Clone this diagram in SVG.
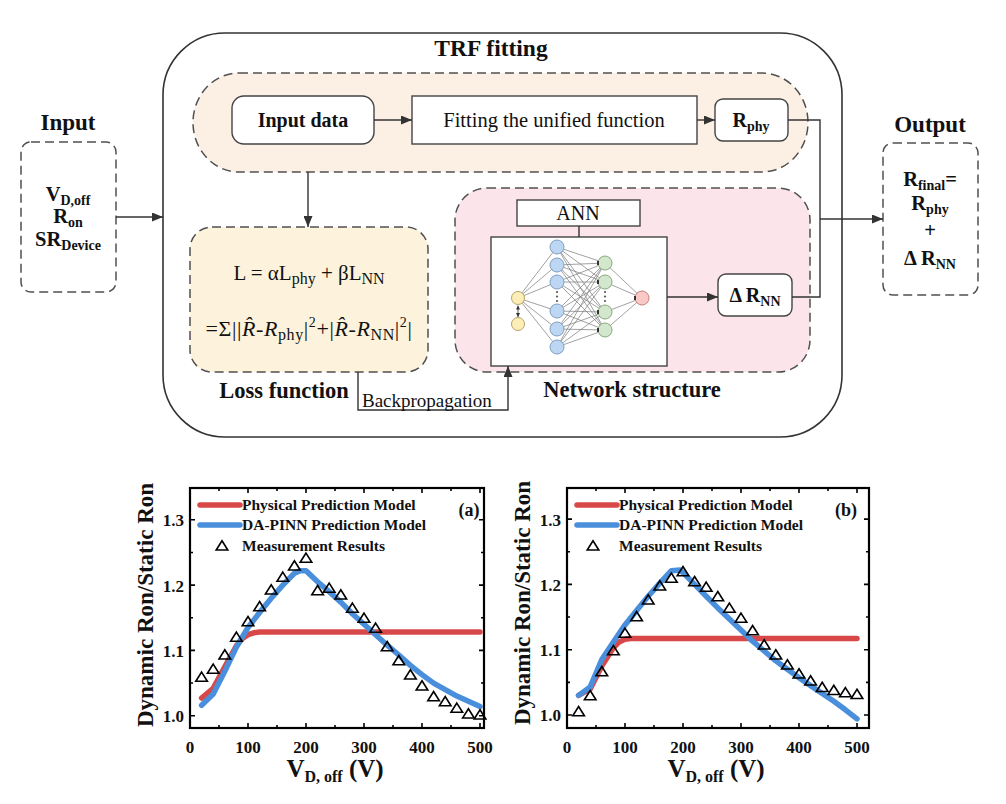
<svg xmlns="http://www.w3.org/2000/svg" width="1006" height="804" viewBox="0 0 1006 804">
<style>
text{font-family:"Liberation Serif","Times New Roman",serif;fill:#111}
.b{font-weight:bold}
.dash{fill:none;stroke:#505050;stroke-width:1.5;stroke-dasharray:9,5}
.box{fill:#fff;stroke:#444;stroke-width:1.4}
.con{fill:none;stroke:#333;stroke-width:1.4}
.arr{marker-end:url(#ah)}
.edge{stroke:#7a7a7a;stroke-width:0.7}
.nY{fill:#fdeeb8;stroke:#b5a466;stroke-width:1}
.nB{fill:#bdd6f2;stroke:#7d9fc6;stroke-width:1}
.nG{fill:#d2e7cb;stroke:#88a97e;stroke-width:1}
.nR{fill:#f9c9c5;stroke:#c27f7a;stroke-width:1}
.axis{fill:none;stroke:#000;stroke-width:2.2}
.tick{fill:none;stroke:#000;stroke-width:1.6}
.red{fill:none;stroke:#d94848;stroke-width:5.5;stroke-linejoin:round;stroke-linecap:round}
.blue{fill:none;stroke:#4a8fdb;stroke-width:5.5;stroke-linejoin:round;stroke-linecap:round}
.tri{fill:none;stroke:#000;stroke-width:1.6;stroke-linejoin:miter}
.tl{font-size:17px;font-weight:bold}
.lg{font-size:15.5px;font-weight:bold}
</style>
<defs>
<marker id="ah" markerUnits="userSpaceOnUse" markerWidth="11" markerHeight="9" refX="11" refY="4.5" orient="auto"><path d="M0,0 L11,4.5 L0,9 z" fill="#333"/></marker>
<marker id="sa" markerUnits="userSpaceOnUse" markerWidth="4" markerHeight="4" refX="4" refY="2" orient="auto-start-reverse"><path d="M0,0 L4,2 L0,4 z" fill="#333"/></marker>
<path id="t" d="M0,-5.2 L5.8,4 L-5.8,4 Z"/>
</defs>

<g id="frame">
<rect x="163" y="33" width="679" height="404" rx="62" ry="62" fill="#fff" stroke="#333" stroke-width="1.6"/>
<text x="491" y="56" text-anchor="middle" class="b" font-size="23.5">TRF fitting</text>
</g>

<g id="trf-group">
<rect x="193" y="73" width="615" height="99" rx="46" ry="49.5" fill="#fcefe3"/>
<rect x="193" y="73" width="615" height="99" rx="46" ry="49.5" class="dash"/>
</g>

<g id="loss-group">
<rect x="190" y="227" width="238" height="145" rx="22" fill="#fdf3dc"/>
<rect x="190" y="227" width="238" height="145" rx="22" class="dash"/>
<text x="309" y="280" text-anchor="middle" font-size="21">L = αL<tspan font-size="16" dy="4">phy</tspan><tspan dy="-4"> + βL</tspan><tspan font-size="16" dy="4">NN</tspan></text>
<text x="309" y="336" text-anchor="middle" font-size="22" letter-spacing="0.6">=Σ||<tspan font-style="italic">R̂</tspan>-<tspan font-style="italic">R</tspan><tspan font-size="16" dy="4">phy</tspan><tspan dy="-4">|</tspan><tspan font-size="14" dy="-9">2</tspan><tspan dy="9">+|</tspan><tspan font-style="italic">R̂</tspan>-<tspan font-style="italic">R</tspan><tspan font-size="16" dy="4">NN</tspan><tspan dy="-4">|</tspan><tspan font-size="14" dy="-9">2</tspan><tspan dy="9">|</tspan></text>
<text x="284" y="398" text-anchor="middle" class="b" font-size="22.5">Loss function</text>
</g>

<g id="network-group">
<rect x="455" y="188" width="355" height="184" rx="32" fill="#fce4eb"/>
<rect x="455" y="188" width="355" height="184" rx="32" class="dash"/>
<text x="632" y="397" text-anchor="middle" class="b" font-size="22.5">Network structure</text>
</g>

<g id="input">
<text x="68" y="130" text-anchor="middle" class="b" font-size="23">Input</text>
<rect x="21" y="142" width="95" height="150" rx="10" class="dash"/>
<text x="68" y="201" text-anchor="middle" class="b" font-size="20.5">V<tspan font-size="14" dy="4">D,off</tspan></text>
<text x="68" y="223" text-anchor="middle" class="b" font-size="20.5">R<tspan font-size="14" dy="4">on</tspan></text>
<text x="68" y="246" text-anchor="middle" class="b" font-size="20.5">SR<tspan font-size="14" dy="4">Device</tspan></text>
</g>

<g id="output">
<text x="930" y="132" text-anchor="middle" class="b" font-size="23">Output</text>
<rect x="883" y="143" width="95" height="152" rx="10" class="dash"/>
<text x="930" y="186" text-anchor="middle" class="b" font-size="20.5">R<tspan font-size="14" dy="4">final</tspan><tspan dy="-4">=</tspan></text>
<text x="930" y="210" text-anchor="middle" class="b" font-size="20.5">R<tspan font-size="14" dy="4">phy</tspan></text>
<text x="930" y="237" text-anchor="middle" class="b" font-size="20.5">+</text>
<text x="930" y="265" text-anchor="middle" class="b" font-size="20.5">Δ R<tspan font-size="14" dy="4">NN</tspan></text>
</g>

<g id="input-data">
<rect x="232" y="96" width="142" height="48" rx="12" class="box"/>
<text x="303" y="127" text-anchor="middle" class="b" font-size="20">Input data</text>
</g>

<g id="fitting">
<rect x="412" y="96" width="285" height="48" class="box"/>
<text x="554" y="127" text-anchor="middle" font-size="20.5">Fitting the unified function</text>
</g>

<g id="rphy">
<rect x="715" y="99" width="73" height="42" rx="8" class="box"/>
<text x="751" y="127" text-anchor="middle" class="b" font-size="20">R<tspan font-size="14" dy="4">phy</tspan></text>
</g>

<g id="ann-label">
<rect x="517" y="200" width="123" height="26" class="box"/>
<text x="578" y="220" text-anchor="middle" font-size="20">ANN</text>
</g>

<g id="ann">
<rect x="491" y="237" width="176" height="129" class="box"/>
<g class="edge">
<line x1="518" y1="298" x2="557" y2="247"/><line x1="518" y1="298" x2="557" y2="265"/><line x1="518" y1="298" x2="557" y2="282"/><line x1="518" y1="298" x2="557" y2="311"/><line x1="518" y1="298" x2="557" y2="329"/><line x1="518" y1="298" x2="557" y2="347"/>
<line x1="557" y1="247" x2="605" y2="263"/><line x1="557" y1="247" x2="605" y2="282"/><line x1="557" y1="247" x2="605" y2="312"/><line x1="557" y1="247" x2="605" y2="330"/>
<line x1="557" y1="265" x2="605" y2="263"/><line x1="557" y1="265" x2="605" y2="282"/><line x1="557" y1="265" x2="605" y2="312"/><line x1="557" y1="265" x2="605" y2="330"/>
<line x1="557" y1="282" x2="605" y2="263"/><line x1="557" y1="282" x2="605" y2="282"/><line x1="557" y1="282" x2="605" y2="312"/><line x1="557" y1="282" x2="605" y2="330"/>
<line x1="557" y1="311" x2="605" y2="263"/><line x1="557" y1="311" x2="605" y2="282"/><line x1="557" y1="311" x2="605" y2="312"/><line x1="557" y1="311" x2="605" y2="330"/>
<line x1="557" y1="329" x2="605" y2="263"/><line x1="557" y1="329" x2="605" y2="282"/><line x1="557" y1="329" x2="605" y2="312"/><line x1="557" y1="329" x2="605" y2="330"/>
<line x1="557" y1="347" x2="605" y2="263"/><line x1="557" y1="347" x2="605" y2="282"/><line x1="557" y1="347" x2="605" y2="312"/><line x1="557" y1="347" x2="605" y2="330"/>
<line x1="605" y1="263" x2="642" y2="298"/><line x1="605" y1="282" x2="642" y2="298"/><line x1="605" y1="312" x2="642" y2="298"/><line x1="605" y1="330" x2="642" y2="298"/>
</g>
<line x1="518" y1="305.5" x2="518" y2="317" stroke="#333" stroke-width="0.8" marker-start="url(#sa)" marker-end="url(#sa)"/>
<circle cx="518" cy="298" r="6.5" class="nY"/><circle cx="518" cy="324" r="6.5" class="nY"/>
<circle cx="557" cy="247" r="7" class="nB"/><circle cx="557" cy="265" r="7" class="nB"/><circle cx="557" cy="282" r="7" class="nB"/><circle cx="557" cy="311" r="7" class="nB"/><circle cx="557" cy="329" r="7" class="nB"/><circle cx="557" cy="347" r="7" class="nB"/>
<circle cx="605" cy="263" r="7" class="nG"/><circle cx="605" cy="282" r="7" class="nG"/><circle cx="605" cy="312" r="7" class="nG"/><circle cx="605" cy="330" r="7" class="nG"/>
<circle cx="642" cy="298" r="7" class="nR"/>
<g fill="#333"><rect x="597" y="261" width="2" height="4"/><rect x="597" y="280" width="2" height="4"/><rect x="597" y="310" width="2" height="4"/><rect x="597" y="328" width="2" height="4"/><rect x="634" y="296" width="2" height="4"/>
<circle cx="557" cy="292" r="0.9"/><circle cx="557" cy="296.5" r="0.9"/><circle cx="557" cy="301" r="0.9"/><circle cx="605" cy="292" r="0.9"/><circle cx="605" cy="296.5" r="0.9"/><circle cx="605" cy="301" r="0.9"/></g>
</g>

<g id="drnn">
<rect x="718" y="274" width="74" height="42" rx="8" class="box"/>
<text x="755" y="302" text-anchor="middle" class="b" font-size="20">Δ R<tspan font-size="14" dy="4">NN</tspan></text>
</g>

<g id="connectors">
<line x1="116" y1="217" x2="163" y2="217" class="con arr"/>
<line x1="374" y1="120" x2="412" y2="120" class="con arr"/>
<line x1="697" y1="120" x2="715" y2="120" class="con arr"/>
<line x1="308" y1="172" x2="308" y2="227" class="con arr"/>
<polyline points="788,120 820,120 820,297 792,297" class="con"/>
<line x1="820" y1="219" x2="883" y2="219" class="con arr"/>
<line x1="667" y1="297" x2="718" y2="297" class="con arr"/>
<line x1="579" y1="226" x2="579" y2="237" class="con"/>
<polyline points="358,372 358,410 508,410 508,366" class="con arr"/>
<text x="362" y="407" font-size="19">Backpropagation</text>
</g>

<g id="plot-a">
<rect x="190" y="488" width="294" height="240" class="axis"/>
<path class="tick" d="M190,728v-5M248,728v-5M306,728v-5M364,728v-5M422,728v-5M480,728v-5M219,728v-3M277,728v-3M335,728v-3M393,728v-3M451,728v-3M190,488v5M248,488v5M306,488v5M364,488v5M422,488v5M480,488v5M219,488v3M277,488v3M335,488v3M393,488v3M451,488v3M190,715.7h5M190,650.4h5M190,585.1h5M190,519.8h5M190,683h3M190,617.8h3M190,552.5h3M484,715.7h-5M484,650.4h-5M484,585.1h-5M484,519.8h-5M484,683h-3M484,617.8h-3M484,552.5h-3"/>
<g class="tl" text-anchor="end"><text x="184" y="722">1.0</text><text x="184" y="657">1.1</text><text x="184" y="591.5">1.2</text><text x="184" y="526">1.3</text></g>
<g class="tl" text-anchor="middle"><text x="190" y="753">0</text><text x="248" y="753">100</text><text x="306" y="753">200</text><text x="364" y="753">300</text><text x="422" y="753">400</text><text x="480" y="753">500</text></g>
<text transform="translate(153,605) rotate(-90)" text-anchor="middle" class="b" font-size="23">Dynamic Ron/Static Ron</text>
<text x="335" y="777" text-anchor="middle" class="b" font-size="25">V<tspan font-size="16" dy="5">D, off</tspan><tspan dy="-5"> (V)</tspan></text>
<polyline class="red" points="201.6,698.1 213.2,688.3 224.8,666.7 236.4,645.8 242.2,638.6 248,634.7 253.8,632.8 259.6,632.1 480,632.1"/>
<polyline class="blue" points="201.6,705.3 213.2,694.1 224.8,671.3 236.4,647.1 248,627.5 259.6,612.5 271.2,598.2 282.8,585.1 294.4,573.3 300.2,570.7 306,570.7 317.6,581.8 329.2,591.6 340.8,602.1 352.4,613.8 364,624.3 375.6,634.7 387.2,645.2 398.8,655 410.4,665.4 422,674.6 433.6,683.1 445.2,689.6 456.8,696.1 468.4,701.3 480,706.6"/>
<g class="tri">
<use href="#t" x="201.6" y="677.3"/><use href="#t" x="213.2" y="669.3"/><use href="#t" x="224.8" y="655"/><use href="#t" x="236.4" y="637.3"/><use href="#t" x="248" y="621.7"/><use href="#t" x="259.6" y="606.7"/><use href="#t" x="271.2" y="590"/><use href="#t" x="282.8" y="577.3"/><use href="#t" x="294.4" y="566"/><use href="#t" x="306" y="558.3"/><use href="#t" x="317.6" y="590.7"/><use href="#t" x="329.2" y="588.3"/><use href="#t" x="340.8" y="595"/><use href="#t" x="352.4" y="608.3"/><use href="#t" x="364" y="618.3"/><use href="#t" x="375.6" y="628.3"/><use href="#t" x="387.2" y="646.7"/><use href="#t" x="398.8" y="660.7"/><use href="#t" x="410.4" y="675"/><use href="#t" x="422" y="686"/><use href="#t" x="433.6" y="696.7"/><use href="#t" x="445.2" y="701.7"/><use href="#t" x="456.8" y="708.3"/><use href="#t" x="468.4" y="714"/><use href="#t" x="480" y="715"/>
</g>
<line x1="200" y1="505" x2="240" y2="505" class="red"/>
<line x1="200" y1="525" x2="240" y2="525" class="blue"/>
<use href="#t" x="222" y="546" class="tri"/>
<text x="242" y="510" class="lg">Physical Prediction Model</text>
<text x="242" y="530" class="lg">DA-PINN Prediction Model</text>
<text x="242" y="551" class="lg">Measurement Results</text>
<text x="469" y="516" text-anchor="middle" class="b" font-size="18">(a)</text>
</g>

<g id="plot-b">
<rect x="567" y="488" width="302" height="240" class="axis"/>
<path class="tick" d="M567,728v-5M625,728v-5M683,728v-5M741,728v-5M799,728v-5M857,728v-5M596,728v-3M654,728v-3M712,728v-3M770,728v-3M828,728v-3M567,488v5M625,488v5M683,488v5M741,488v5M799,488v5M857,488v5M596,488v3M654,488v3M712,488v3M770,488v3M828,488v3M567,715h5M567,649.7h5M567,584.4h5M567,519.1h5M567,682.4h3M567,617h3M567,551.8h3M869,715h-5M869,649.7h-5M869,584.4h-5M869,519.1h-5M869,682.4h-3M869,617h-3M869,551.8h-3"/>
<g class="tl" text-anchor="end"><text x="561" y="721">1.0</text><text x="561" y="656">1.1</text><text x="561" y="591">1.2</text><text x="561" y="525.5">1.3</text></g>
<g class="tl" text-anchor="middle"><text x="567" y="753">0</text><text x="625" y="753">100</text><text x="683" y="753">200</text><text x="741" y="753">300</text><text x="799" y="753">400</text><text x="857" y="753">500</text></g>
<text transform="translate(530,603) rotate(-90)" text-anchor="middle" class="b" font-size="23">Dynamic Ron/Static Ron</text>
<text x="716" y="777" text-anchor="middle" class="b" font-size="25">V<tspan font-size="16" dy="5">D, off</tspan><tspan dy="-5"> (V)</tspan></text>
<polyline class="red" points="578.6,695.4 590.2,688.9 601.8,666 613.4,647.7 619.2,641.9 625,639.3 630.8,638.6 857,638.6"/>
<polyline class="blue" points="578.6,695.4 590.2,686.9 601.8,659.5 613.4,641.9 625,624.9 636.6,610.5 648.2,596.2 659.8,583.1 671.4,570.7 680.1,570 683,572.6 694.6,584.4 706.2,596.2 717.8,607.9 729.4,619 741,630.1 752.6,641.2 764.2,651 775.8,660.8 787.4,669.3 799,677.8 810.6,685.6 822.2,693.5 833.8,701.3 845.4,709.8 857,718.9"/>
<g class="tri">
<use href="#t" x="578.6" y="711.7"/><use href="#t" x="590.2" y="695.7"/><use href="#t" x="601.8" y="671.7"/><use href="#t" x="613.4" y="650.7"/><use href="#t" x="625" y="633.3"/><use href="#t" x="636.6" y="616.7"/><use href="#t" x="648.2" y="600"/><use href="#t" x="659.8" y="586"/><use href="#t" x="671.4" y="578.3"/><use href="#t" x="683" y="571.7"/><use href="#t" x="694.6" y="581.7"/><use href="#t" x="706.2" y="587.3"/><use href="#t" x="717.8" y="596.7"/><use href="#t" x="729.4" y="608.3"/><use href="#t" x="741" y="618.3"/><use href="#t" x="752.6" y="630.7"/><use href="#t" x="764.2" y="645"/><use href="#t" x="775.8" y="655"/><use href="#t" x="787.4" y="665"/><use href="#t" x="799" y="674"/><use href="#t" x="810.6" y="681"/><use href="#t" x="822.2" y="687.5"/><use href="#t" x="833.8" y="690.5"/><use href="#t" x="845.4" y="692.8"/><use href="#t" x="857" y="694.5"/>
</g>
<line x1="577" y1="505" x2="617" y2="505" class="red"/>
<line x1="577" y1="525" x2="617" y2="525" class="blue"/>
<use href="#t" x="593" y="546" class="tri"/>
<text x="619" y="510" class="lg">Physical Prediction Model</text>
<text x="619" y="530" class="lg">DA-PINN Prediction Model</text>
<text x="619" y="551" class="lg">Measurement Results</text>
<text x="846" y="516" text-anchor="middle" class="b" font-size="18">(b)</text>
</g>
</svg>
